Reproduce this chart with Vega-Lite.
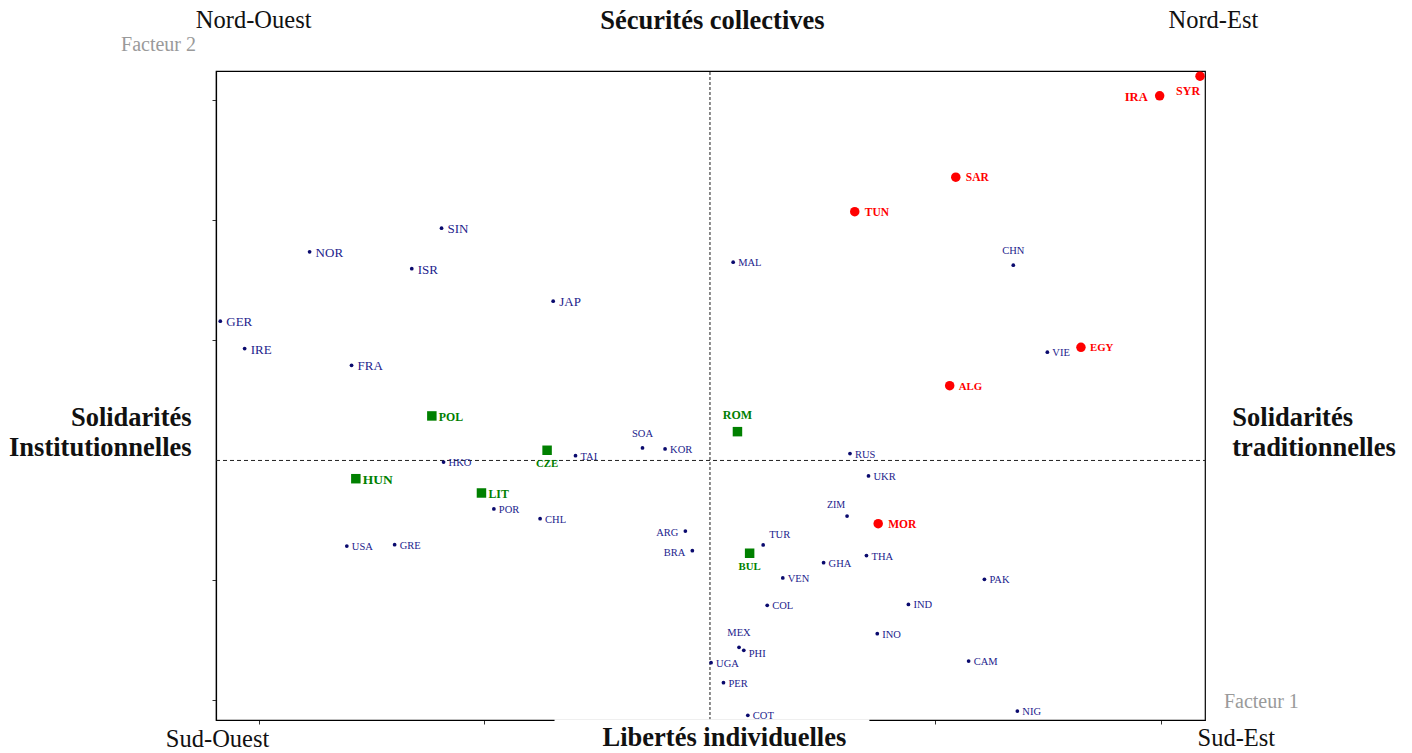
{
  "$schema": "https://vega.github.io/schema/vega-lite/v6.json",
  "width": 989,
  "height": 649,
  "autosize": {"type": "none"},
  "padding": {"left": 216, "top": 71, "right": 207, "bottom": 33},
  "background": "white",
  "config": {
    "view": {"stroke": "black", "strokeWidth": 1.2},
    "font": "Liberation Serif",
    "axis": {"grid": false, "labels": false, "title": null, "domainColor": "black", "tickColor": "#333", "tickSize": 4, "domainWidth": 1.2}
  },
  "datasets": {
    "pts": [
      {"c": "SIN", "g": "autre", "x": -1.190, "y": 1.935},
      {"c": "NOR", "g": "autre", "x": -1.775, "y": 1.738},
      {"c": "ISR", "g": "autre", "x": -1.322, "y": 1.598},
      {"c": "JAP", "g": "autre", "x": -0.695, "y": 1.327},
      {"c": "GER", "g": "autre", "x": -2.171, "y": 1.160},
      {"c": "IRE", "g": "autre", "x": -2.063, "y": 0.932},
      {"c": "FRA", "g": "autre", "x": -1.589, "y": 0.793},
      {"c": "HKO", "g": "autre", "x": -1.181, "y": -0.013},
      {"c": "TAI", "g": "autre", "x": -0.596, "y": 0.040},
      {"c": "SOA", "g": "autre", "x": -0.299, "y": 0.104},
      {"c": "KOR", "g": "autre", "x": -0.199, "y": 0.096},
      {"c": "POR", "g": "autre", "x": -0.958, "y": -0.404},
      {"c": "CHL", "g": "autre", "x": -0.753, "y": -0.485},
      {"c": "USA", "g": "autre", "x": -1.610, "y": -0.713},
      {"c": "GRE", "g": "autre", "x": -1.398, "y": -0.702},
      {"c": "ARG", "g": "autre", "x": -0.109, "y": -0.588},
      {"c": "BRA", "g": "autre", "x": -0.078, "y": -0.752},
      {"c": "MAL", "g": "autre", "x": 0.103, "y": 1.652},
      {"c": "CHN", "g": "autre", "x": 1.345, "y": 1.627},
      {"c": "VIE", "g": "autre", "x": 1.496, "y": 0.902},
      {"c": "RUS", "g": "autre", "x": 0.621, "y": 0.057},
      {"c": "UKR", "g": "autre", "x": 0.703, "y": -0.129},
      {"c": "ZIM", "g": "autre", "x": 0.608, "y": -0.463},
      {"c": "TUR", "g": "autre", "x": 0.236, "y": -0.704},
      {"c": "THA", "g": "autre", "x": 0.694, "y": -0.792},
      {"c": "GHA", "g": "autre", "x": 0.504, "y": -0.852},
      {"c": "VEN", "g": "autre", "x": 0.323, "y": -0.979},
      {"c": "COL", "g": "autre", "x": 0.254, "y": -1.207},
      {"c": "PAK", "g": "autre", "x": 1.217, "y": -0.990},
      {"c": "IND", "g": "autre", "x": 0.880, "y": -1.200},
      {"c": "INO", "g": "autre", "x": 0.742, "y": -1.443},
      {"c": "CAM", "g": "autre", "x": 1.147, "y": -1.671},
      {"c": "NIG", "g": "autre", "x": 1.363, "y": -2.088},
      {"c": "MEX", "g": "autre", "x": 0.129, "y": -1.557},
      {"c": "PHI", "g": "autre", "x": 0.150, "y": -1.582},
      {"c": "UGA", "g": "autre", "x": 0.005, "y": -1.685},
      {"c": "PER", "g": "autre", "x": 0.060, "y": -1.852},
      {"c": "COT", "g": "autre", "x": 0.168, "y": -2.123},
      {"c": "SYR", "g": "arabe", "x": 2.173, "y": 3.202},
      {"c": "IRA", "g": "arabe", "x": 1.994, "y": 3.038},
      {"c": "SAR", "g": "arabe", "x": 1.090, "y": 2.360},
      {"c": "TUN", "g": "arabe", "x": 0.642, "y": 2.073},
      {"c": "EGY", "g": "arabe", "x": 1.645, "y": 0.943},
      {"c": "ALG", "g": "arabe", "x": 1.063, "y": 0.623},
      {"c": "MOR", "g": "arabe", "x": 0.746, "y": -0.527},
      {"c": "POL", "g": "excom", "x": -1.233, "y": 0.371},
      {"c": "CZE", "g": "excom", "x": -0.722, "y": 0.085},
      {"c": "HUN", "g": "excom", "x": -1.570, "y": -0.152},
      {"c": "LIT", "g": "excom", "x": -1.013, "y": -0.271},
      {"c": "ROM", "g": "excom", "x": 0.122, "y": 0.240},
      {"c": "BUL", "g": "excom", "x": 0.176, "y": -0.773}
    ],
    "axesLines": [
      {"k": "v", "x": 0, "x2": 0, "y": -2.1625, "y2": 3.245},
      {"k": "h", "x": -2.19, "x2": 2.195, "y": 0, "y2": 0}
    ],
    "gap": [
      {"x": -0.689, "x2": 0.707, "y": -2.156, "y2": -2.45}
    ],
    "corners": [
      {"t": "Nord-Ouest", "x": -2.023, "y": 3.66},
      {"t": "Nord-Est", "x": 2.232, "y": 3.66},
      {"t": "Sud-Ouest", "x": -2.183, "y": -2.325},
      {"t": "Sud-Est", "x": 2.334, "y": -2.32}
    ],
    "poles": [
      {"t": "Sécurités collectives", "x": 0.011, "y": 3.66},
      {"t": "Libertés individuelles", "x": 0.064, "y": -2.31}
    ],
    "sideL": [
      {"t": "Solidarités", "x": -2.298, "y": 0.354},
      {"t": "Institutionnelles", "x": -2.298, "y": 0.104}
    ],
    "sideR": [
      {"t": "Solidarités", "x": 2.316, "y": 0.354},
      {"t": "traditionnelles", "x": 2.316, "y": 0.104}
    ],
    "factors": [
      {"t": "Facteur 2", "x": -2.445, "y": 3.4625},
      {"t": "Facteur 1", "x": 2.445, "y": -2.0125}
    ]
  },
  "encoding": {
    "x": {"field": "x", "type": "quantitative", "scale": {"domain": [-2.19, 2.195], "nice": false, "zero": false}, "axis": {"values": [-2, -1, 0, 1, 2]}},
    "y": {"field": "y", "type": "quantitative", "scale": {"domain": [-2.1625, 3.245], "nice": false, "zero": false}, "axis": {"values": [-2, -1, 1, 2, 3]}}
  },
  "layer": [
    {"data": {"name": "axesLines"}, "transform": [{"filter": "datum.k === 'v'"}], "mark": {"type": "rule", "color": "#808080", "strokeWidth": 1.8, "strokeDash": [3, 2]}, "encoding": {"x2": {"field": "x2"}, "y2": {"field": "y2"}}},
    {"data": {"name": "axesLines"}, "transform": [{"filter": "datum.k === 'h'"}], "mark": {"type": "rule", "color": "#222", "strokeWidth": 1, "strokeDash": [4, 3]}, "encoding": {"x2": {"field": "x2"}, "y2": {"field": "y2"}}},
    {"data": {"name": "gap"}, "mark": {"type": "rect", "color": "white", "opacity": 1, "clip": false}, "encoding": {"x2": {"field": "x2"}, "y2": {"field": "y2"}}},
    {"data": {"name": "pts"}, "transform": [{"filter": "datum.g === 'autre'"}], "mark": {"type": "point", "shape": "circle", "filled": true, "size": 14, "color": "#0a0a6e", "opacity": 1}},
    {"data": {"name": "pts"}, "transform": [{"filter": "datum.g === 'arabe'"}], "mark": {"type": "point", "shape": "circle", "filled": true, "size": 90, "color": "#ff0000", "opacity": 1, "clip": false}},
    {"data": {"name": "pts"}, "transform": [{"filter": "datum.g === 'excom'"}], "mark": {"type": "point", "shape": "square", "filled": true, "size": 90, "color": "#008000", "opacity": 1}},
    {"data": {"name": "pts"}, "transform": [{"filter": "datum.g === 'autre' && indexof(['SOA','CHN','MEX','ZIM','TUR','PHI','ARG','BRA','SIN','NOR','ISR','JAP','GER','IRE','FRA'], datum.c) < 0"}], "mark": {"type": "text", "align": "left", "baseline": "middle", "dx": 5, "dy": 1, "fontSize": 10.5, "color": "#22228c"}, "encoding": {"text": {"field": "c"}}},
    {"data": {"name": "pts"}, "transform": [{"filter": "indexof(['SIN','NOR','ISR','JAP','GER','IRE','FRA'], datum.c) >= 0"}], "mark": {"type": "text", "align": "left", "baseline": "middle", "dx": 6, "dy": 1, "fontSize": 13, "color": "#22228c"}, "encoding": {"text": {"field": "c"}}},
    {"data": {"name": "pts"}, "transform": [{"filter": "indexof(['SOA','CHN','MEX'], datum.c) >= 0"}], "mark": {"type": "text", "align": "center", "baseline": "middle", "dy": -14, "fontSize": 10.5, "color": "#22228c"}, "encoding": {"text": {"field": "c"}}},
    {"data": {"name": "pts"}, "transform": [{"filter": "indexof(['ARG','BRA'], datum.c) >= 0"}], "mark": {"type": "text", "align": "right", "baseline": "middle", "dx": -7, "dy": 2, "fontSize": 10.5, "color": "#22228c"}, "encoding": {"text": {"field": "c"}}},
    {"data": {"name": "pts"}, "transform": [{"filter": "datum.c === 'ZIM'"}], "mark": {"type": "text", "align": "center", "baseline": "middle", "dx": -11, "dy": -11, "fontSize": 10, "color": "#22228c"}, "encoding": {"text": {"field": "c"}}},
    {"data": {"name": "pts"}, "transform": [{"filter": "datum.c === 'TUR'"}], "mark": {"type": "text", "align": "left", "baseline": "middle", "dx": 6, "dy": -10, "fontSize": 10.5, "color": "#22228c"}, "encoding": {"text": {"field": "c"}}},
    {"data": {"name": "pts"}, "transform": [{"filter": "datum.c === 'PHI'"}], "mark": {"type": "text", "align": "left", "baseline": "middle", "dx": 5, "dy": 4, "fontSize": 10.5, "color": "#22228c"}, "encoding": {"text": {"field": "c"}}},
    {"data": {"name": "pts"}, "transform": [{"filter": "indexof(['SAR','TUN','MOR'], datum.c) >= 0"}], "mark": {"type": "text", "align": "left", "baseline": "middle", "dx": 10, "dy": 1, "fontSize": 11.5, "fontWeight": "bold", "color": "#ff0000"}, "encoding": {"text": {"field": "c"}}},
    {"data": {"name": "pts"}, "transform": [{"filter": "indexof(['EGY','ALG'], datum.c) >= 0"}], "mark": {"type": "text", "align": "left", "baseline": "middle", "dx": 9, "dy": 1, "fontSize": 10.8, "fontWeight": "bold", "color": "#ff0000"}, "encoding": {"text": {"field": "c"}}},
    {"data": {"name": "pts"}, "transform": [{"filter": "datum.c === 'IRA'"}], "mark": {"type": "text", "align": "right", "baseline": "middle", "dx": -12, "dy": 1, "fontSize": 12.5, "fontWeight": "bold", "color": "#ff0000"}, "encoding": {"text": {"field": "c"}}},
    {"data": {"name": "pts"}, "transform": [{"filter": "datum.c === 'SYR'"}], "mark": {"type": "text", "align": "center", "baseline": "middle", "dx": -12, "dy": 15, "fontSize": 12, "fontWeight": "bold", "color": "#ff0000"}, "encoding": {"text": {"field": "c"}}},
    {"data": {"name": "pts"}, "transform": [{"filter": "indexof(['POL','LIT'], datum.c) >= 0"}], "mark": {"type": "text", "align": "left", "baseline": "middle", "dx": 7, "dy": 1, "fontSize": 11.8, "fontWeight": "bold", "color": "#008000"}, "encoding": {"text": {"field": "c"}}},
    {"data": {"name": "pts"}, "transform": [{"filter": "datum.c === 'HUN'"}], "mark": {"type": "text", "align": "left", "baseline": "middle", "dx": 7, "dy": 1, "fontSize": 13.5, "fontWeight": "bold", "color": "#008000"}, "encoding": {"text": {"field": "c"}}},
    {"data": {"name": "pts"}, "transform": [{"filter": "indexof(['CZE','BUL'], datum.c) >= 0"}], "mark": {"type": "text", "align": "center", "baseline": "middle", "dy": 14, "fontSize": 10.8, "fontWeight": "bold", "color": "#008000"}, "encoding": {"text": {"field": "c"}}},
    {"data": {"name": "pts"}, "transform": [{"filter": "datum.c === 'ROM'"}], "mark": {"type": "text", "align": "center", "baseline": "middle", "dy": -17, "fontSize": 12, "fontWeight": "bold", "color": "#008000"}, "encoding": {"text": {"field": "c"}}},
    {"data": {"name": "corners"}, "mark": {"type": "text", "align": "center", "baseline": "middle", "fontSize": 24.5, "color": "#111", "clip": false}, "encoding": {"text": {"field": "t"}}},
    {"data": {"name": "poles"}, "mark": {"type": "text", "align": "center", "baseline": "middle", "fontSize": 26.5, "fontWeight": "bold", "color": "#111", "clip": false}, "encoding": {"text": {"field": "t"}}},
    {"data": {"name": "sideL"}, "mark": {"type": "text", "align": "right", "baseline": "middle", "fontSize": 26.5, "fontWeight": "bold", "color": "#111", "clip": false}, "encoding": {"text": {"field": "t"}}},
    {"data": {"name": "sideR"}, "mark": {"type": "text", "align": "left", "baseline": "middle", "fontSize": 26.5, "fontWeight": "bold", "color": "#111", "clip": false}, "encoding": {"text": {"field": "t"}}},
    {"data": {"name": "factors"}, "mark": {"type": "text", "align": "center", "baseline": "middle", "fontSize": 20, "color": "#9a9a9a", "clip": false}, "encoding": {"text": {"field": "t"}}}
  ]
}
